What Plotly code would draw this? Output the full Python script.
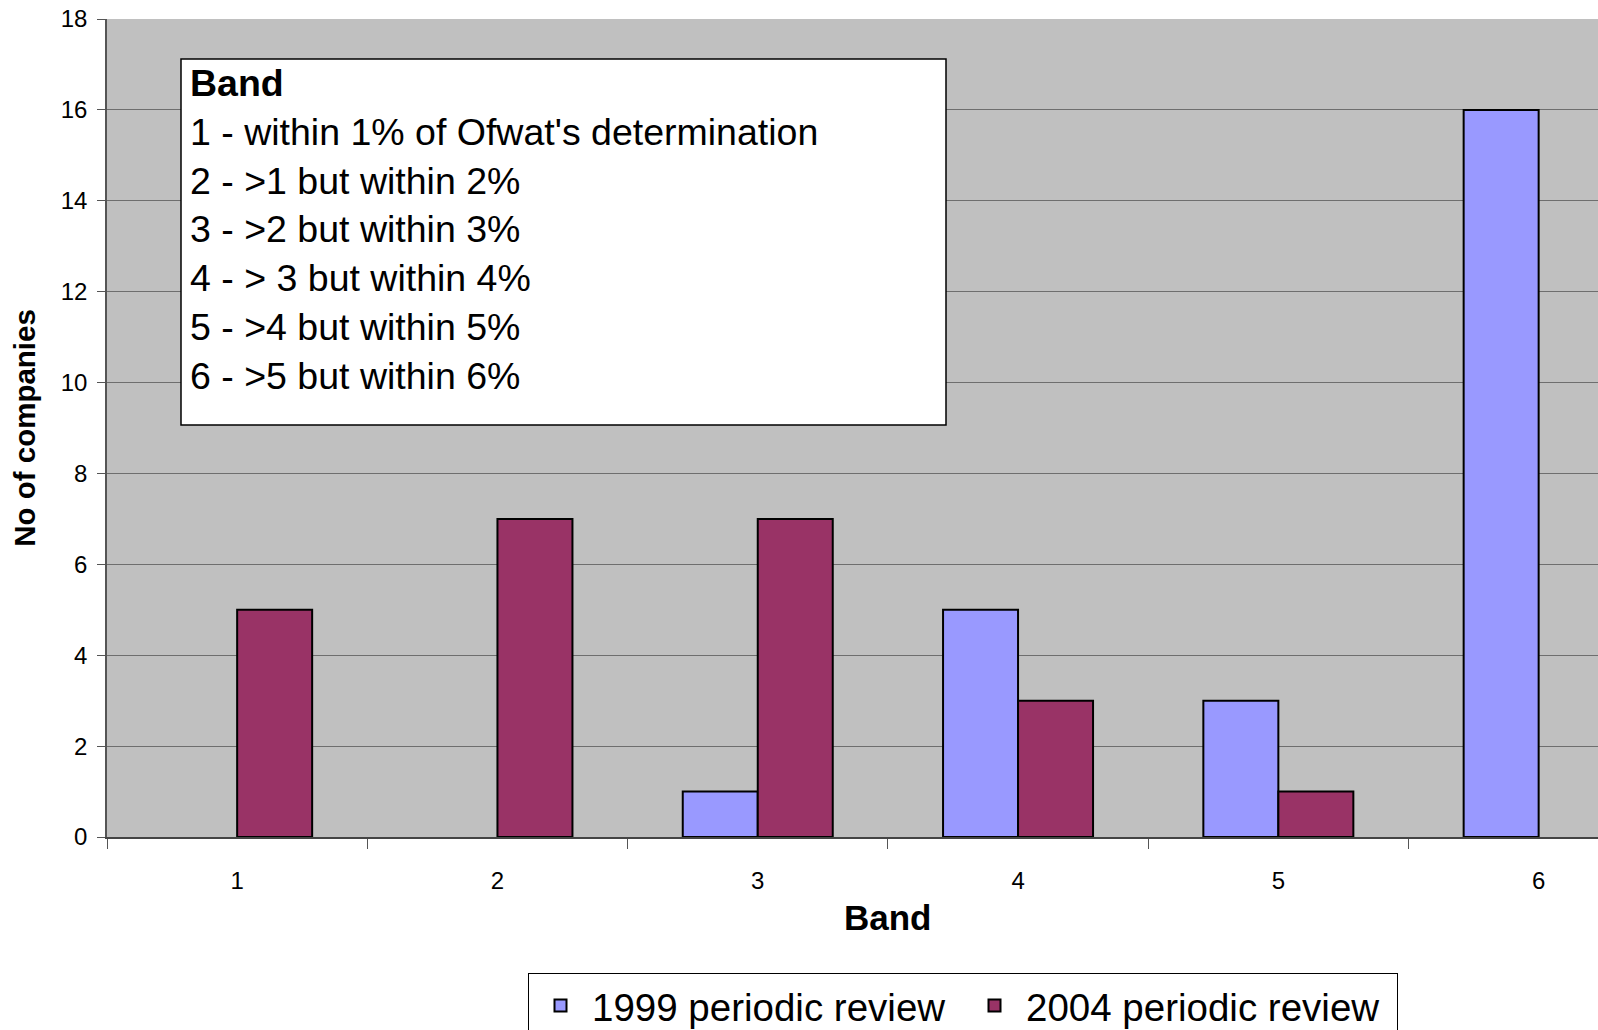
import plotly.graph_objects as go

bands = ["1", "2", "3", "4", "5", "6"]
review_1999 = [0, 0, 1, 5, 3, 16]
review_2004 = [5, 7, 7, 3, 1, 0]
series_names = ["1999 periodic review", "2004 periodic review"]
box_lines = [
    "<b>Band</b>",
    "1 - within 1% of Ofwat's determination",
    "2 - >1 but within 2%",
    "3 - >2 but within 3%",
    "4 - > 3 but within 4%",
    "5 - >4 but within 5%",
    "6 - >5 but within 6%",
]

FONT = "Liberation Sans, Arial, sans-serif"
W, H = 1598, 1030
L, T, B = 107, 19, 193
plot_w = W - L
plot_h = H - T - B
cat_w = 260.3

def nz(vals):
    # zero-height bars are not drawn in the reference (no outline)
    return [v if v != 0 else None for v in vals]

fig = go.Figure()
fig.add_trace(go.Bar(x=bands, y=nz(review_1999), name=series_names[0],
                     marker=dict(color="#9999FF", line=dict(color="black", width=2))))
fig.add_trace(go.Bar(x=bands, y=nz(review_2004), name=series_names[1],
                     marker=dict(color="#993366", line=dict(color="black", width=2))))

def px_x(px):
    return (px - L) / plot_w

def px_y(py):
    return (H - B - py) / plot_h

# text box
fig.add_shape(type="rect", xref="paper", yref="paper",
              x0=px_x(181), x1=px_x(946), y0=px_y(425), y1=px_y(59),
              line=dict(color="black", width=1.5), fillcolor="white", layer="above")
fig.add_annotation(xref="paper", yref="paper", x=px_x(189), y=px_y(229),
                   xanchor="left", yanchor="middle", align="left", showarrow=False,
                   text="<br>".join(box_lines), borderpad=0,
                   font=dict(family=FONT, size=37.5, color="black"))

# x-axis title (the full plot area extends past the right edge of the picture,
# so the title is centred on that full width)
fig.add_annotation(xref="paper", yref="paper", x=px_x(888), y=px_y(918),
                   xanchor="center", yanchor="middle", showarrow=False,
                   text="<b>Band</b>", font=dict(family=FONT, size=35, color="black"))

fig.update_layout(
    width=W, height=H,
    margin=dict(l=L, r=0, t=T, b=B, pad=0, autoexpand=False),
    paper_bgcolor="white", plot_bgcolor="#C0C0C0",
    barmode="group", bargap=1 - 150 / cat_w, bargroupgap=0,
    font=dict(family=FONT, color="black"),
    showlegend=True,
    legend=dict(orientation="h", x=px_x(963), xanchor="center", y=px_y(973), yanchor="top",
                bordercolor="black", borderwidth=1, bgcolor="white",
                entrywidth=366, entrywidthmode="pixels", itemwidth=53,
                font=dict(family=FONT, size=38.5, color="black"), traceorder="normal"),
)
fig.update_xaxes(
    type="category", range=[-0.5, -0.5 + plot_w / cat_w], automargin=False,
    tickson="boundaries", ticks="outside", ticklen=10, tickcolor="#555", tickwidth=1,
    showline=True, linecolor="#444", linewidth=1.5, showgrid=False,
    tickfont=dict(family=FONT, size=24, color="black"), ticklabelstandoff=21,
)
fig.update_yaxes(
    range=[0, 18], tickmode="array", tickvals=list(range(0, 19, 2)), automargin=False,
    ticks="outside", ticklen=8, tickcolor="#555", tickwidth=1,
    showline=True, linecolor="#555", linewidth=1.5,
    showgrid=True, gridcolor="#6e6e6e", gridwidth=1, zeroline=False,
    tickfont=dict(family=FONT, size=24, color="black"), ticklabelstandoff=5,
    title=dict(text="<b>No of companies</b>", font=dict(family=FONT, size=29.5, color="black"), standoff=16),
)

fig.write_html("out.html", config={"displayModeBar": False},
               post_script="document.body.style.margin='0px';")
